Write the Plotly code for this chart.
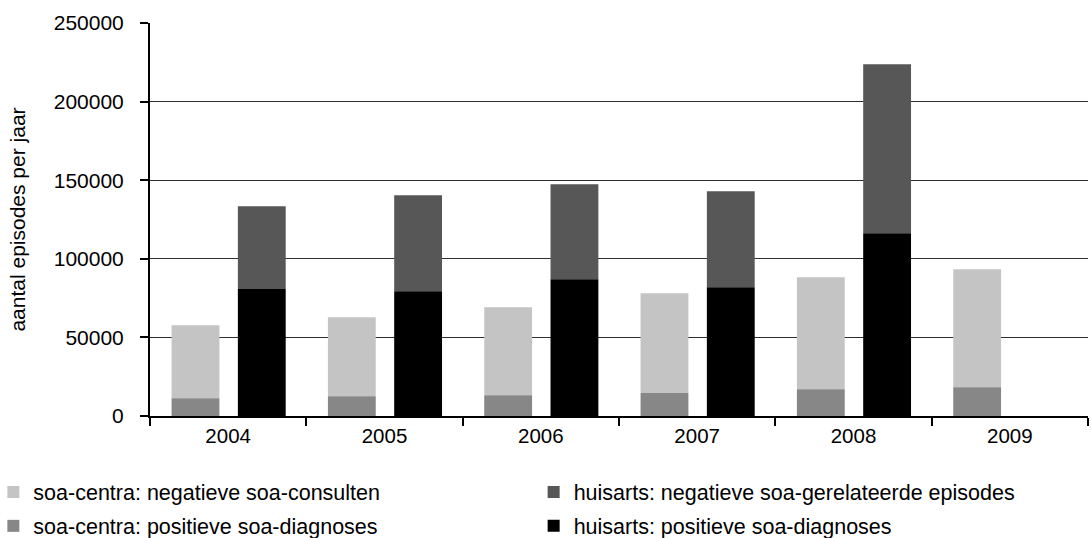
import plotly.graph_objects as go

# Jaarlijkse soa-episodes: soa-centra versus huisarts
years = ["2004", "2005", "2006", "2007", "2008", "2009"]

soa_pos = [11300, 12500, 13200, 14600, 17000, 18300]
soa_neg = [46400, 50300, 55900, 63500, 71200, 75000]
huis_pos = [80800, 79300, 87000, 81900, 116200, None]
huis_neg = [52600, 61100, 60400, 61100, 107500, None]

labels = {
    "soa_neg": "soa-centra: negatieve soa-consulten",
    "soa_pos": "soa-centra: positieve soa-diagnoses",
    "huis_neg": "huisarts: negatieve soa-gerelateerde episodes",
    "huis_pos": "huisarts: positieve soa-diagnoses",
}
colors = {
    "soa_neg": "#c4c4c4",
    "soa_pos": "#878787",
    "huis_neg": "#575757",
    "huis_pos": "#000000",
}

FONT = "Liberation Sans, Arial, sans-serif"
BAR_W = 0.306
OFF_SOA = -0.362
OFF_HUIS = 0.062

fig = go.Figure()

# soa-centra column (left in each year): positive at the bottom, negative stacked above
fig.add_trace(go.Bar(
    x=years, y=soa_neg, base=soa_pos, name=labels["soa_neg"],
    marker=dict(color=colors["soa_neg"], line=dict(width=0)),
    width=BAR_W, offset=OFF_SOA, legend="legend", legendgroup="a",
))
fig.add_trace(go.Bar(
    x=years, y=soa_pos, name=labels["soa_pos"],
    marker=dict(color=colors["soa_pos"], line=dict(width=0)),
    width=BAR_W, offset=OFF_SOA, legend="legend", legendgroup="b",
))

# huisarts column (right in each year)
fig.add_trace(go.Bar(
    x=years, y=huis_neg, base=huis_pos, name=labels["huis_neg"],
    marker=dict(color=colors["huis_neg"], line=dict(width=0)),
    width=BAR_W, offset=OFF_HUIS, legend="legend2", legendgroup="c",
))
fig.add_trace(go.Bar(
    x=years, y=huis_pos, name=labels["huis_pos"],
    marker=dict(color=colors["huis_pos"], line=dict(width=0)),
    width=BAR_W, offset=OFF_HUIS, legend="legend2", legendgroup="d",
))

legend_common = dict(
    orientation="v", traceorder="grouped", tracegroupgap=3,
    font=dict(family=FONT, size=21.5, color="#000000"),
    bgcolor="rgba(0,0,0,0)", borderwidth=0,
    xanchor="left", yanchor="top", itemclick=False, itemdoubleclick=False,
)

fig.update_layout(
    width=1091, height=538,
    margin=dict(l=150, r=3, t=23, b=122, autoexpand=False),
    barmode="overlay",
    plot_bgcolor="#ffffff", paper_bgcolor="#ffffff",
    font=dict(family=FONT, size=21, color="#000000"),
    legend=dict(x=-0.167, y=-0.141, **legend_common),
    legend2=dict(x=0.409, y=-0.141, **legend_common),
    xaxis=dict(
        type="category", range=[-0.5, 5.5],
        showline=True, linecolor="#000000", linewidth=2,
        ticks="outside", tickson="boundaries", ticklen=8, tickwidth=2,
        tickcolor="#000000", showgrid=False,
        tickfont=dict(family=FONT, size=20.5),
    ),
    yaxis=dict(
        range=[0, 250000], tickvals=[0, 50000, 100000, 150000, 200000, 250000],
        tickformat="d",
        showline=True, linecolor="#000000", linewidth=2,
        ticks="outside", ticklen=8, tickwidth=2, tickcolor="#000000",
        showgrid=True, gridcolor="#2e2e2e", gridwidth=1,
        zeroline=False,
        tickfont=dict(family=FONT, size=21),
        ticklabelstandoff=12,
        title=dict(text="aantal episodes per jaar", font=dict(family=FONT, size=21), standoff=22),
    ),
)

fig.write_html("out.html")
